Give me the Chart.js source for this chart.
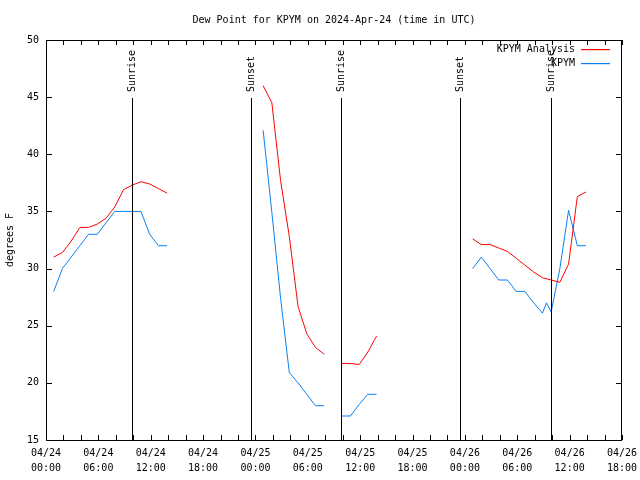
<!DOCTYPE html>
<html>
<head>
<meta charset="utf-8">
<title>Dew Point KPYM</title>
<script src="https://cdn.jsdelivr.net/npm/chart.js@4.4.1/dist/chart.umd.min.js"></script>
<style>
  html, body { margin: 0; padding: 0; background: #fff; }
  #wrap { width: 640px; height: 480px; }
</style>
</head>
<body>
<div id="wrap"><canvas id="dew-chart" width="640" height="480"></canvas></div>
<script>
const chartTitle = 'Dew Point for KPYM on 2024-Apr-24 (time in UTC)';
const yAxisTitle = 'degrees F';

// hours since 04/24 00:00 UTC, a null value breaks the line
const analysisHours = [0.88, 1.88, 2.88, 3.88, 4.88, 5.88, 6.88, 7.88, 8.88, 9.88, 10.88, 11.88, 12.88, 13.88,
  20,
  24.88, 25.88, 26.88, 27.88, 28.88, 29.88, 30.88, 31.88,
  32.88,
  33.88, 34.88, 35.88, 36.88, 37.88,
  44,
  48.88, 49.88, 50.88, 51.88, 52.88, 53.88, 54.88, 55.88, 56.88, 57.88, 58.88, 59.88, 60.88, 61.88];
const analysisValues = [31.0, 31.4, 32.4, 33.6, 33.6, 33.9, 34.4, 35.4, 36.9, 37.3, 37.6, 37.4, 37.0, 36.6,
  null,
  46.0, 44.5, 37.7, 32.8, 26.7, 24.3, 23.1, 22.5,
  null,
  21.7, 21.7, 21.6, 22.7, 24.1,
  null,
  32.6, 32.1, 32.1, 31.8, 31.5, 30.9, 30.3, 29.7, 29.2, 29.0, 28.8, 30.4, 36.3, 36.7];

const obsHours = [0.88, 1.88, 2.88, 3.88, 4.88, 5.88, 6.88, 7.88, 8.88, 9.88, 10.88, 11.88, 12.88, 13.88,
  20,
  24.88, 25.88, 26.88, 27.88, 28.88, 29.88, 30.88, 31.88,
  32.88,
  33.88, 34.88, 35.88, 36.88, 37.88,
  44,
  48.88, 49.88, 50.88, 51.88, 52.88, 53.88, 54.88, 55.88, 56.88, 57.35, 57.88, 58.88, 59.88, 60.88, 61.88];
const obsValues = [28, 30, 31, 32, 33, 33, 34, 35, 35, 35, 35, 33, 32, 32,
  null,
  42.1, 34.9, 27.4, 20.9, 20.0, 19.0, 18.0, 18.0,
  null,
  17.1, 17.1, 18.1, 19.0, 19.0,
  null,
  30, 31, 30, 29, 29, 28, 28, 27, 26.1, 27, 26.2, 30, 35.1, 32, 32];

const sunHours = [9.83, 23.54, 33.82, 47.45, 57.82];
const sunLabels = ['Sunrise', 'Sunset', 'Sunrise', 'Sunset', 'Sunrise'];

const tickDays = ['04/24', '04/25', '04/26', '04/27'];

const seriesColors = ['#ff0000', '#0a80f0'];

const monoFont = 'DejaVu Sans Mono';
Chart.defaults.font.family = monoFont;
Chart.defaults.font.size = 10;
Chart.defaults.color = '#000';

function toPoints(hours, values) {
  return hours.map((h, i) => ({ x: h, y: values[i] }));
}

function pad2(n) {
  return (n < 10 ? '0' : '') + n;
}

// frame, inward ticks, sun lines, title and legend
const decorPlugin = {
  id: 'decor',
  afterDatasetsDraw(chart) {
    const ctx = chart.ctx;
    const area = chart.chartArea;
    const xs = chart.scales.x;
    const ys = chart.scales.y;
    ctx.save();
    ctx.strokeStyle = '#000';
    ctx.lineWidth = 1;

    // sunrise / sunset markers
    ctx.font = '10px ' + monoFont;
    ctx.fillStyle = '#000';
    sunHours.forEach((h, i) => {
      const x = Math.round(xs.getPixelForValue(h)) + 0.5;
      ctx.beginPath();
      ctx.moveTo(x, 98);
      ctx.lineTo(x, area.bottom);
      ctx.stroke();
      ctx.save();
      ctx.translate(x, 92);
      ctx.rotate(-Math.PI / 2);
      ctx.textAlign = 'left';
      ctx.textBaseline = 'middle';
      ctx.fillText(sunLabels[i], 0, 0);
      ctx.restore();
    });

    // box
    ctx.strokeRect(area.left + 0.5, area.top + 0.5, area.right - area.left - 1, area.bottom - area.top);

    // ticks pointing into the plot
    ctx.beginPath();
    xs.ticks.forEach(t => {
      const x = Math.round(xs.getPixelForValue(t.value)) + 0.5;
      ctx.moveTo(x, area.bottom);
      ctx.lineTo(x, area.bottom - 5);
      ctx.moveTo(x, area.top);
      ctx.lineTo(x, area.top + 5);
    });
    ys.ticks.forEach(t => {
      const y = Math.round(ys.getPixelForValue(t.value)) + 0.5;
      ctx.moveTo(area.left, y);
      ctx.lineTo(area.left + 6, y);
      ctx.moveTo(area.right, y);
      ctx.lineTo(area.right - 6, y);
    });
    ctx.stroke();
    ctx.restore();
  },
  afterDraw(chart) {
    const ctx = chart.ctx;
    const area = chart.chartArea;
    ctx.save();
    ctx.font = '10px ' + monoFont;
    ctx.fillStyle = '#000';
    ctx.textAlign = 'center';
    ctx.textBaseline = 'middle';
    ctx.fillText(chartTitle, (area.left + area.right) / 2, 20);

    // legend: label then a line sample
    ctx.textAlign = 'right';
    chart.data.datasets.forEach((ds, i) => {
      const y = 49 + i * 14;
      ctx.fillStyle = '#000';
      ctx.fillText(ds.label, 575, y);
      ctx.fillStyle = seriesColors[i];
      ctx.fillRect(581, y, 29, 1.2);
    });
    ctx.restore();
  }
};

const ctx = document.getElementById('dew-chart').getContext('2d');
const dewChart = new Chart(ctx, {
  type: 'line',
  data: {
    datasets: [{
      label: 'KPYM Analysis',
      data: toPoints(analysisHours, analysisValues),
      borderColor: seriesColors[0],
      borderWidth: 1,
      pointRadius: 0,
      tension: 0,
      spanGaps: false
    }, {
      label: 'KPYM',
      data: toPoints(obsHours, obsValues),
      borderColor: seriesColors[1],
      borderWidth: 1,
      pointRadius: 0,
      tension: 0,
      spanGaps: false
    }]
  },
  options: {
    responsive: false,
    animation: false,
    layout: { padding: { top: 40, right: 18, left: 0, bottom: 0 } },
    plugins: {
      legend: { display: false },
      tooltip: { enabled: false },
      title: { display: false }
    },
    scales: {
      x: {
        type: 'linear',
        min: 0,
        max: 66,
        grid: { display: false, drawTicks: false },
        border: { display: false },
        ticks: {
          stepSize: 2,
          autoSkip: false,
          maxRotation: 0,
          padding: 6,
          font: { size: 10, lineHeight: 1.5 },
          callback: function(value) {
            const v = Math.round(value);
            if (v % 6 !== 0) return '';
            return [tickDays[Math.floor(v / 24)], pad2(v % 24) + ':00'];
          }
        },
        afterFit: function(scale) {
          scale.height = 40;
          scale.paddingLeft = 0;
          scale.paddingRight = 0;
        }
      },
      y: {
        min: 15,
        max: 50,
        grid: { display: false, drawTicks: false },
        border: { display: false },
        ticks: { stepSize: 5, padding: 7 },
        title: { display: true, text: yAxisTitle, padding: { top: 4, bottom: 0 } },
        afterFit: function(scale) {
          scale.width = 46;
          scale.paddingTop = 0;
          scale.paddingBottom = 0;
        }
      }
    }
  },
  plugins: [decorPlugin]
});
</script>
</body>
</html>
